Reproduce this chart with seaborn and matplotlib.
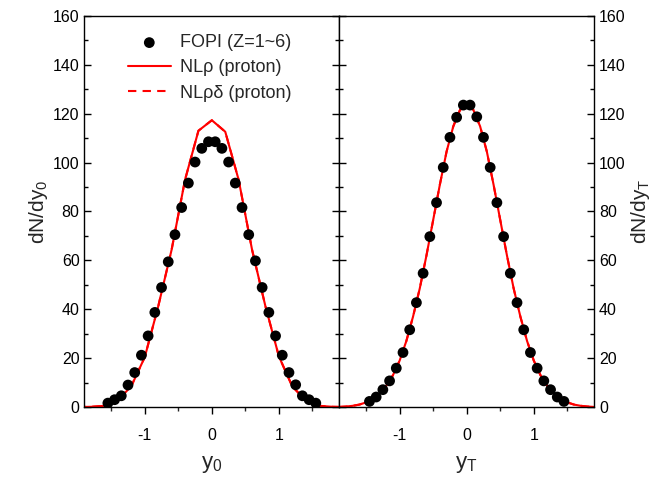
import matplotlib
matplotlib.use("Agg")
import matplotlib.pyplot as plt
from matplotlib.ticker import MultipleLocator
import seaborn as sns

# FOPI data, y0 distribution (left panel)
y0_points = [-1.55, -1.45, -1.35, -1.25, -1.15, -1.05, -0.95, -0.85, -0.75, -0.65,
             -0.55, -0.45, -0.35, -0.25, -0.15, -0.05, 0.05, 0.15, 0.25, 0.35,
             0.45, 0.55, 0.65, 0.75, 0.85, 0.95, 1.05, 1.15, 1.25, 1.35, 1.45, 1.55]
dn_y0_points = [1.6, 3.0, 4.6, 9.0, 14.1, 21.2, 29.1, 38.7, 48.9, 59.4,
                70.5, 81.6, 91.6, 100.2, 105.8, 108.5, 108.5, 105.8, 100.2, 91.6,
                81.6, 70.5, 59.8, 48.9, 38.7, 29.1, 21.2, 14.1, 9.1, 4.6, 3.0, 1.6]

# model curves, y0 (NLrho and NLrhodelta coincide)
y0_model = [-2.0, -1.8, -1.6, -1.4, -1.2, -1.0, -0.8, -0.6, -0.4, -0.2, 0.0,
            0.2, 0.4, 0.6, 0.8, 1.0, 1.2, 1.4, 1.6, 1.8, 2.0]
dn_y0_nlrho = [0.0, 0.1, 0.5, 2.7, 8.6, 20.4, 41.1, 64.3, 92.9, 113.0, 117.3,
               112.6, 92.9, 64.3, 41.1, 20.7, 8.4, 2.7, 0.5, 0.1, 0.0]
dn_y0_nlrhodelta = [0.0, 0.1, 0.5, 2.7, 8.6, 20.4, 41.1, 64.3, 92.9, 113.0, 117.3,
                    112.6, 92.9, 64.3, 41.1, 20.7, 8.4, 2.7, 0.5, 0.1, 0.0]

# FOPI data, yT distribution (right panel)
yt_points = [-1.45, -1.35, -1.25, -1.15, -1.05, -0.95, -0.85, -0.75, -0.65, -0.55,
             -0.45, -0.35, -0.25, -0.15, -0.05, 0.05, 0.15, 0.25, 0.35, 0.45,
             0.55, 0.65, 0.75, 0.85, 0.95, 1.05, 1.15, 1.25, 1.35, 1.45]
dn_yt_points = [2.3, 4.1, 7.1, 10.7, 15.9, 22.3, 31.6, 42.7, 54.7, 69.7,
                83.6, 98.0, 110.3, 118.5, 123.5, 123.5, 118.7, 110.3, 98.0, 83.6,
                69.7, 54.7, 42.7, 31.6, 22.3, 15.9, 10.7, 7.1, 4.1, 2.3]

yt_model = [-1.9, -1.8, -1.7, -1.6, -1.5, -1.4, -1.3, -1.2, -1.1, -1.0, -0.9, -0.8,
            -0.7, -0.6, -0.5, -0.4, -0.3, -0.2, -0.1, 0.0, 0.1, 0.2, 0.3, 0.4,
            0.5, 0.6, 0.7, 0.8, 0.9, 1.0, 1.1, 1.2, 1.3, 1.4, 1.5, 1.6, 1.7, 1.8, 1.9]
dn_yt_nlrho = [0.05, 0.2, 0.5, 1.0, 1.9, 3.3, 5.5, 8.7, 13.0, 19.0, 27.0, 37.0,
               48.5, 62.0, 76.5, 91.0, 104.5, 114.8, 121.5, 123.8, 121.5, 114.8, 104.5, 91.0,
               76.5, 62.0, 48.5, 37.0, 27.0, 19.0, 13.0, 8.7, 5.5, 3.3, 1.9, 1.0, 0.5, 0.2, 0.05]
dn_yt_nlrhodelta = list(dn_yt_nlrho)

sns.set_theme(style="ticks")
plt.rcParams["font.family"] = ["Liberation Sans", "DejaVu Sans"]
plt.rcParams["mathtext.fontset"] = "custom"
plt.rcParams["mathtext.rm"] = "Liberation Sans"
plt.rcParams["axes.unicode_minus"] = False

fig = plt.figure(figsize=(6.62, 4.8), dpi=100)
ax_l = fig.add_axes([0.1275, 0.152, 0.385, 0.815])
ax_r = fig.add_axes([0.5125, 0.152, 0.385, 0.815])

RED = "#ff0000"


def draw_panel(ax, px, py, mx, m_rho, m_rhodelta):
    sns.lineplot(x=mx, y=m_rhodelta, ax=ax, color=RED, linewidth=1.5,
                 linestyle=(0, (4, 3)), label="NL\u03c1\u03b4 (proton)", sort=False)
    sns.lineplot(x=mx, y=m_rho, ax=ax, color=RED, linewidth=1.5,
                 label="NL\u03c1 (proton)", sort=False)
    sns.scatterplot(x=px, y=py, ax=ax, color="black", s=60, edgecolor="none",
                    label="FOPI (Z=1~6)", zorder=3)
    ax.set_xlim(-1.9, 1.9)
    ax.set_ylim(0, 160)
    ax.xaxis.set_major_locator(MultipleLocator(1))
    ax.xaxis.set_minor_locator(MultipleLocator(0.5))
    ax.yaxis.set_major_locator(MultipleLocator(20))
    ax.yaxis.set_minor_locator(MultipleLocator(10))
    for side in ["left", "right", "top", "bottom"]:
        ax.spines[side].set_visible(True)
        ax.spines[side].set_linewidth(1.0)
        ax.spines[side].set_color("black")
    ax.tick_params(axis="x", which="major", direction="out", length=5, width=1,
                   labelsize=11.5, pad=10, top=False, colors="black")
    ax.tick_params(axis="x", which="minor", direction="out", length=3, width=1, top=False)
    ax.tick_params(axis="y", which="both", direction="in", left=True, right=True,
                   width=1, labelsize=11.5, colors="black")
    ax.tick_params(axis="y", which="major", length=5)
    ax.tick_params(axis="y", which="minor", length=3)
    ax.set_facecolor("white")


draw_panel(ax_l, y0_points, dn_y0_points, y0_model, dn_y0_nlrho, dn_y0_nlrhodelta)
draw_panel(ax_r, yt_points, dn_yt_points, yt_model, dn_yt_nlrho, dn_yt_nlrhodelta)

ax_l.set_xticks([-1, 0, 1])
ax_r.set_xticks([-1, 0, 1])
ax_l.tick_params(axis="y", labelleft=True, labelright=False)
ax_r.tick_params(axis="y", labelleft=False, labelright=True)

ax_l.set_xlabel(r"$\mathregular{y_0}$", fontsize=16, labelpad=8)
ax_r.set_xlabel(r"$\mathregular{y_T}$", fontsize=16, labelpad=8)
ax_l.set_ylabel(r"$\mathregular{dN/dy_0}$", fontsize=15, labelpad=2)
ax_r.set_ylabel(r"$\mathregular{dN/dy_T}$", fontsize=15, labelpad=2)
ax_r.yaxis.set_label_position("right")

# legend only on left panel, in the order point / solid / dashed
handles, labels = ax_l.get_legend_handles_labels()
order = [labels.index("FOPI (Z=1~6)"), labels.index("NL\u03c1 (proton)"),
         labels.index("NL\u03c1\u03b4 (proton)")]
ax_l.legend([handles[i] for i in order], [labels[i] for i in order],
            loc="upper left", bbox_to_anchor=(0.12, 0.985), frameon=False,
            fontsize=13, handlelength=2.4, handletextpad=0.5, labelspacing=0.45,
            borderpad=0.2)
ax_r.get_legend().remove()

fig.savefig("out.png", dpi=100, facecolor="white")
